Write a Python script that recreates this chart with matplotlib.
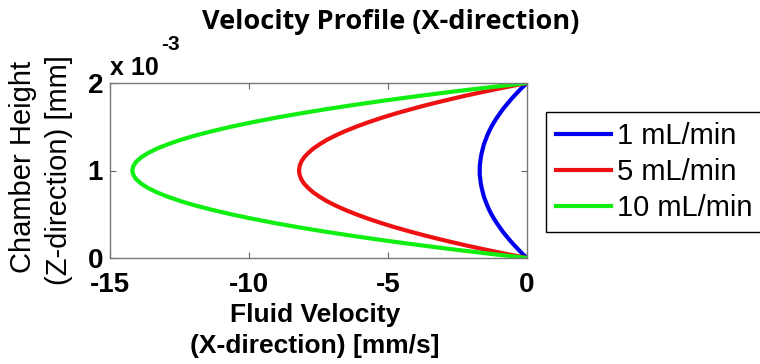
import numpy as np
import matplotlib
matplotlib.use('Agg')
import matplotlib.pyplot as plt
from matplotlib.ticker import FuncFormatter

# chamber height [mm] (0 .. 2e-3)
height = [0.0, 0.05e-3, 0.1e-3, 0.15e-3, 0.2e-3, 0.25e-3, 0.3e-3, 0.35e-3, 0.4e-3, 0.45e-3,
          0.5e-3, 0.55e-3, 0.6e-3, 0.65e-3, 0.7e-3, 0.75e-3, 0.8e-3, 0.85e-3, 0.9e-3, 0.95e-3,
          1.0e-3,
          1.05e-3, 1.1e-3, 1.15e-3, 1.2e-3, 1.25e-3, 1.3e-3, 1.35e-3, 1.4e-3, 1.45e-3, 1.5e-3,
          1.55e-3, 1.6e-3, 1.65e-3, 1.7e-3, 1.75e-3, 1.8e-3, 1.85e-3, 1.9e-3, 1.95e-3, 2.0e-3]

# fluid velocity [mm/s] for each flow rate
vel_1 = [0.0, -0.17, -0.32, -0.47, -0.61, -0.74, -0.87, -0.98, -1.09, -1.19,
         -1.28, -1.36, -1.43, -1.49, -1.55, -1.59, -1.63, -1.66, -1.68, -1.70,
         -1.70,
         -1.70, -1.68, -1.66, -1.63, -1.59, -1.55, -1.49, -1.43, -1.36, -1.28,
         -1.19, -1.09, -0.98, -0.87, -0.74, -0.61, -0.47, -0.32, -0.17, 0.0]
vel_5 = [0.0, -0.80, -1.56, -2.28, -2.95, -3.59, -4.18, -4.74, -5.25, -5.72,
         -6.15, -6.54, -6.89, -7.20, -7.46, -7.69, -7.87, -8.02, -8.12, -8.18,
         -8.20,
         -8.18, -8.12, -8.02, -7.87, -7.69, -7.46, -7.20, -6.89, -6.54, -6.15,
         -5.72, -5.25, -4.74, -4.18, -3.59, -2.95, -2.28, -1.56, -0.80, 0.0]
vel_10 = [0.0, -1.38, -2.70, -3.94, -5.11, -6.21, -7.24, -8.20, -9.09, -9.90,
          -10.65, -11.32, -11.93, -12.46, -12.92, -13.31, -13.63, -13.88, -14.06, -14.16,
          -14.20,
          -14.16, -14.06, -13.88, -13.63, -13.31, -12.92, -12.46, -11.93, -11.32, -10.65,
          -9.90, -9.09, -8.20, -7.24, -6.21, -5.11, -3.94, -2.70, -1.38, 0.0]

labels = ['1 mL/min', '5 mL/min', '10 mL/min']
colors = ['#0000ee', '#ee1111', '#11ee11']

xticks = [-15, -10, -5, 0]
yticks = [0, 1e-3, 2e-3]

plt.rcParams['font.family'] = ['Liberation Sans', 'DejaVu Sans']
plt.rcParams['axes.unicode_minus'] = False

W, H = 760, 364
fig = plt.figure(figsize=(W / 100, H / 100), dpi=100)
ax = fig.add_axes([110 / W, 1 - 258 / H, (527 - 110) / W, (258 - 83) / H])

for v, lab, c in zip([vel_1, vel_5, vel_10], labels, colors):
    ax.plot(v, height, color=c, lw=3, label=lab)

ax.set_xlim(-15, 0)
ax.set_ylim(0, 2e-3)
ax.set_xticks(xticks)
ax.set_yticks(yticks)
ax.yaxis.set_major_formatter(FuncFormatter(lambda y, p: '%g' % round(y / 1e-3, 6)))
ax.tick_params(direction='in', length=4, width=0.8, color='#666666',
               top=True, right=True, labelsize=20)
ax.tick_params(axis='x', pad=10)
ax.tick_params(axis='y', pad=5)
for lab in ax.get_xticklabels() + ax.get_yticklabels():
    lab.set_fontweight('bold')
for s in ax.spines.values():
    s.set_color('#777777')
    s.set_linewidth(1)

# offset text like MATLAB
fig.text(110 / W, 1 - 75 / H, 'x 10', fontsize=18, fontweight='bold',
         ha='left', va='baseline')
fig.text(161 / W, 1 - 50 / H, '-3', fontsize=15, fontweight='bold',
         ha='left', va='baseline')

# axis labels
fig.text(315 / W, 1 - 322 / H, 'Fluid Velocity', fontsize=19, fontweight='bold',
         ha='center', va='baseline')
fig.text(315 / W, 1 - 353 / H, '(X-direction) [mm/s]', fontsize=19, fontweight='bold',
         ha='center', va='baseline')
fig.text(23 / W, 1 - 167 / H, 'Chamber Height', fontsize=21, rotation=90,
         ha='center', va='center')
fig.text(59 / W, 1 - 170 / H, '(Z-direction) [mm]', fontsize=21, rotation=90,
         ha='center', va='center')

fig.text(391 / W, 1 - 22 / H, 'Velocity Profile (X-direction)', fontsize=19.5,
         fontweight='bold', family=['Open Sans', 'DejaVu Sans'], ha='center', va='center')

leg = fig.legend(loc='upper left', bbox_to_anchor=(546 / W, 1 - 112 / H),
                 bbox_transform=fig.transFigure, fontsize=21, frameon=True,
                 fancybox=False, framealpha=1, edgecolor='black', borderaxespad=0,
                 handlelength=1.9, handletextpad=0.2, labelspacing=0.28,
                 borderpad=0.34)
leg.get_frame().set_linewidth(1)

fig.savefig('out.png', dpi=100)
